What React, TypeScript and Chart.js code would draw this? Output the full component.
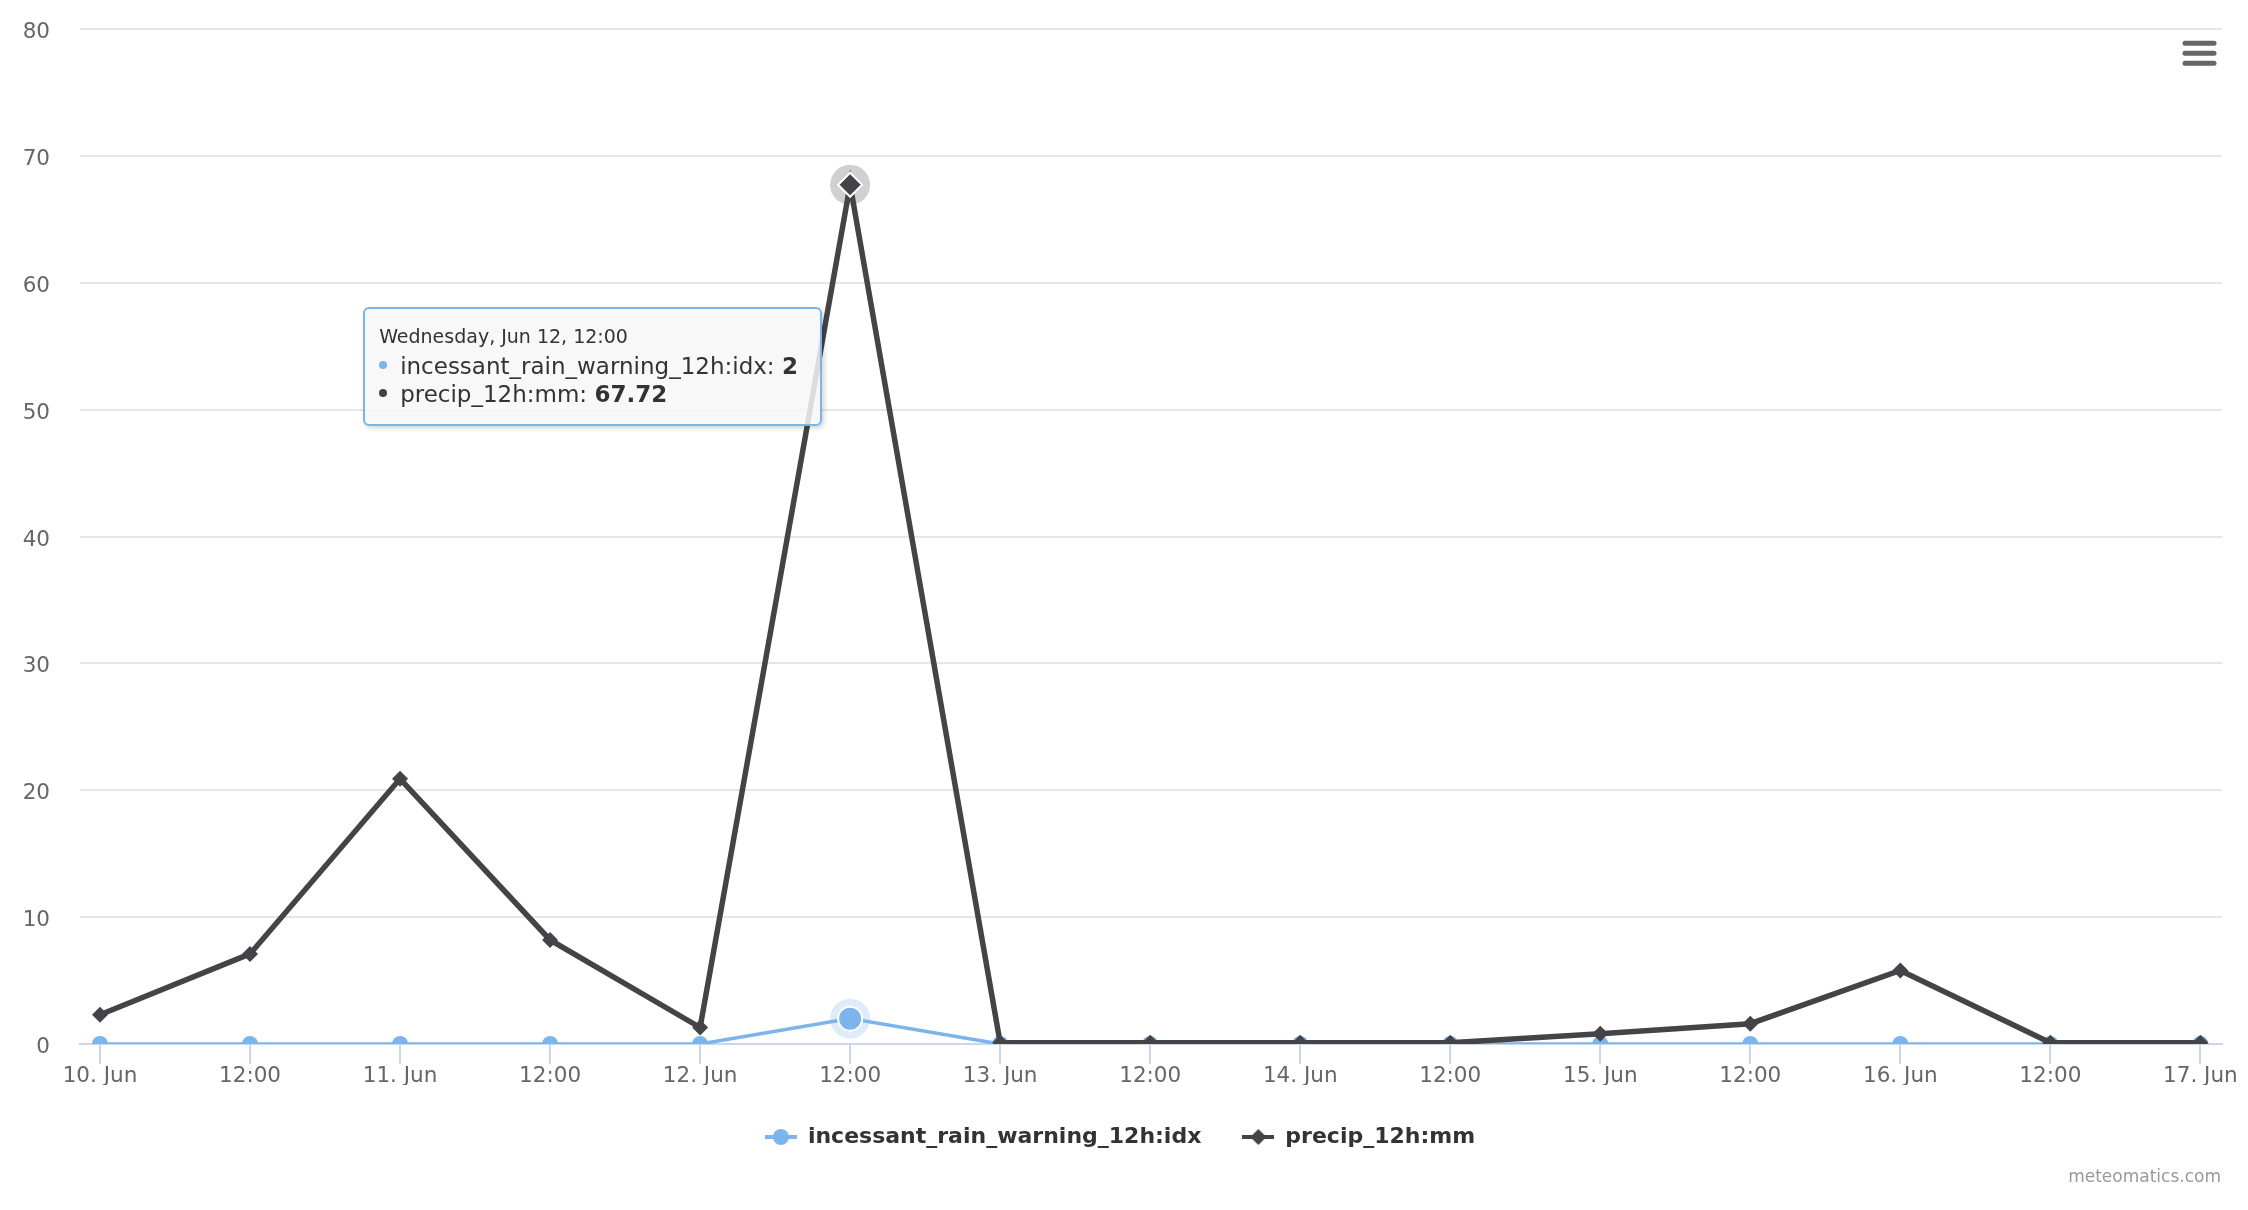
import React, { useEffect, useRef } from 'react';
import { Chart, registerables } from 'chart.js';

Chart.register(...registerables);

const FONT = '"DejaVu Sans", "Lucida Grande", sans-serif';

// ---- data ----
const hours = [0, 12, 24, 36, 48, 60, 72, 84, 96, 108, 120, 132, 144, 156, 168];
const tickLabels = ['10. Jun', '12:00', '11. Jun', '12:00', '12. Jun', '12:00', '13. Jun', '12:00', '14. Jun', '12:00', '15. Jun', '12:00', '16. Jun', '12:00', '17. Jun'];
const pointTitles = [
  'Monday, Jun 10, 00:00', 'Monday, Jun 10, 12:00',
  'Tuesday, Jun 11, 00:00', 'Tuesday, Jun 11, 12:00',
  'Wednesday, Jun 12, 00:00', 'Wednesday, Jun 12, 12:00',
  'Thursday, Jun 13, 00:00', 'Thursday, Jun 13, 12:00',
  'Friday, Jun 14, 00:00', 'Friday, Jun 14, 12:00',
  'Saturday, Jun 15, 00:00', 'Saturday, Jun 15, 12:00',
  'Sunday, Jun 16, 00:00', 'Sunday, Jun 16, 12:00',
  'Monday, Jun 17, 00:00',
];
const rainWarning = [0, 0, 0, 0, 0, 2, 0, 0, 0, 0, 0, 0, 0, 0, 0];
const precip = [2.3, 7.1, 20.9, 8.2, 1.3, 67.72, 0.1, 0.1, 0.1, 0.1, 0.8, 1.6, 5.8, 0.1, 0.1];
const seriesNames = ['incessant_rain_warning_12h:idx', 'precip_12h:mm'];
const yTicks = [0, 10, 20, 30, 40, 50, 60, 70, 80];
const hoveredIndex = 5;
const creditText = 'meteomatics.com';

// ---- styles ----
const seriesColors = ['#7cb5ec', '#434348'];
const haloColors = ['rgba(124,181,236,0.25)', 'rgba(67,67,72,0.25)'];
const xMin = -1.6;
const xMax = 169.73;

function makeLegendSymbol(color: string, shape: 'circle' | 'diamond'): HTMLCanvasElement {
  const c = document.createElement('canvas');
  c.width = 32;
  c.height = 18;
  const g = c.getContext('2d')!;
  g.strokeStyle = color;
  g.lineWidth = 4;
  g.beginPath();
  g.moveTo(0, 9);
  g.lineTo(32, 9);
  g.stroke();
  g.fillStyle = color;
  g.beginPath();
  if (shape === 'circle') {
    g.arc(16, 9, 8, 0, Math.PI * 2);
  } else {
    g.moveTo(16, 1);
    g.lineTo(24, 9);
    g.lineTo(16, 17);
    g.lineTo(8, 9);
    g.closePath();
  }
  g.fill();
  return c;
}

const haloPlugin = {
  id: 'halo',
  beforeDatasetsDraw(chart: any) {
    const ctx = chart.ctx;
    chart.getActiveElements().forEach((a: any) => {
      const el = a.element;
      ctx.save();
      ctx.fillStyle = haloColors[a.datasetIndex];
      ctx.beginPath();
      ctx.arc(el.x, el.y, 20, 0, Math.PI * 2);
      ctx.fill();
      ctx.restore();
    });
  },
};

const decorPlugin = {
  id: 'decor',
  afterDraw(chart: any) {
    const ctx = chart.ctx;
    ctx.save();
    ctx.font = `17px ${FONT}`;
    ctx.fillStyle = '#999999';
    ctx.textAlign = 'right';
    ctx.textBaseline = 'alphabetic';
    ctx.fillText(creditText, chart.width - 27, chart.height - 28);
    ctx.strokeStyle = '#666666';
    ctx.lineWidth = 5;
    ctx.lineCap = 'round';
    [43.2, 53.2, 63.2].forEach((y) => {
      ctx.beginPath();
      ctx.moveTo(chart.width - 63, y);
      ctx.lineTo(chart.width - 34, y);
      ctx.stroke();
    });
    ctx.restore();
  },
};

function renderTooltip(context: any) {
  const { chart, tooltip } = context;
  const host = chart.canvas.parentNode as HTMLElement;
  let el = host.querySelector('[data-tt]') as HTMLDivElement | null;
  if (!el) {
    el = document.createElement('div');
    el.setAttribute('data-tt', '1');
    Object.assign(el.style, {
      position: 'absolute',
      pointerEvents: 'none',
      boxSizing: 'border-box',
      width: '459px',
      padding: '16px 18px 16px 14px',
      background: 'rgba(247,247,247,0.85)',
      border: '2px solid #7cb5ec',
      borderRadius: '6px',
      boxShadow: '2px 2px 5px rgba(0,0,0,0.18)',
      fontFamily: FONT,
      color: '#333333',
      whiteSpace: 'nowrap',
      transform: 'translateX(-100%)',
    });
    host.appendChild(el);
  }
  const points = (tooltip.dataPoints || []).slice().sort((a: any, b: any) => a.datasetIndex - b.datasetIndex);
  if (!points.length || tooltip.opacity === 0) {
    el.style.display = 'none';
    return;
  }
  el.style.display = 'block';
  const idx = points[0].dataIndex;
  let html = `<div style="font-size:19px;line-height:22px;">${pointTitles[idx]}</div>`;
  points.forEach((p: any, k: number) => {
    html +=
      `<div style="font-size:23px;line-height:28px;${k === 0 ? 'margin-top:5px;' : ''}">` +
      `<span style="display:inline-block;width:8px;height:8px;border-radius:50%;background:${seriesColors[p.datasetIndex]};margin-right:13px;vertical-align:middle;position:relative;top:-2px;"></span>` +
      `${seriesNames[p.datasetIndex]}: <b>${p.raw.y}</b></div>`;
  });
  el.innerHTML = html;
  const anchor = chart.getDatasetMeta(1).data[idx];
  el.style.left = `${anchor.x - 28}px`;
  el.style.top = `${anchor.y + 122}px`;
}

export default function App() {
  const canvasRef = useRef<HTMLCanvasElement | null>(null);

  useEffect(() => {
    const canvas = canvasRef.current;
    if (!canvas) return;
    Chart.defaults.font.family = FONT;
    Chart.defaults.color = '#666666';
    const legendSymbols = [makeLegendSymbol(seriesColors[0], 'circle'), makeLegendSymbol(seriesColors[1], 'diamond')];

    const chart = new Chart(canvas, {
      type: 'line',
      data: {
        datasets: [
          {
            label: seriesNames[0],
            data: hours.map((h, i) => ({ x: h, y: rainWarning[i] })),
            borderColor: seriesColors[0],
            backgroundColor: seriesColors[0],
            borderWidth: 3.5,
            pointStyle: 'circle',
            pointRadius: 8,
            pointBorderWidth: 0,
            pointHoverRadius: 12,
            pointHoverBorderWidth: 2,
            pointHoverBorderColor: '#ffffff',
            pointHoverBackgroundColor: seriesColors[0],
            tension: 0,
            order: 1,
          },
          {
            label: seriesNames[1],
            data: hours.map((h, i) => ({ x: h, y: precip[i] })),
            borderColor: seriesColors[1],
            backgroundColor: seriesColors[1],
            borderWidth: 5.5,
            pointStyle: 'rectRot',
            pointRadius: 8,
            pointBorderWidth: 0,
            pointHoverRadius: 12,
            pointHoverBorderWidth: 2,
            pointHoverBorderColor: '#ffffff',
            pointHoverBackgroundColor: seriesColors[1],
            tension: 0,
            order: 0,
          },
        ],
      },
      options: {
        animation: false,
        responsive: false,
        events: [],
        layout: { padding: { left: 18, right: 26, top: 29, bottom: 52 } },
        scales: {
          x: {
            type: 'linear',
            min: xMin,
            max: xMax,
            afterBuildTicks: (s: any) => {
              s.ticks = hours.map((v) => ({ value: v }));
            },
            afterFit: (s: any) => {
              s.height = 41;
            },
            ticks: {
              callback: (_v: any, i: number) => tickLabels[i],
              color: '#666666',
              font: { size: 21.5 },
              padding: 0,
              maxRotation: 0,
              autoSkip: false,
            },
            grid: { drawOnChartArea: false, drawTicks: true, tickLength: 20, color: '#ccd6eb', lineWidth: 2 },
            border: { color: '#ccd6eb', width: 2 },
          },
          y: {
            min: 0,
            max: 80,
            afterBuildTicks: (s: any) => {
              s.ticks = yTicks.map((v) => ({ value: v }));
            },
            afterFit: (s: any) => {
              s.width = 62;
            },
            ticks: { color: '#666666', font: { size: 21.5 }, padding: 0, labelOffset: 3.5 },
            grid: {
              color: '#e6e6e6',
              lineWidth: 2,
              drawTicks: true,
              tickLength: 30,
              tickColor: 'rgba(0,0,0,0)',
            },
            border: { display: false },
          },
        },
        plugins: {
          legend: {
            position: 'bottom',
            align: 'center',
            labels: {
              usePointStyle: true,
              pointStyleWidth: 32,
              boxHeight: 22,
              padding: 41,
              color: '#333333',
              font: { size: 22, weight: 'bold' },
              generateLabels: (ch: any) =>
                ch.data.datasets.map((ds: any, i: number) => ({
                  text: ds.label,
                  fillStyle: seriesColors[i],
                  strokeStyle: seriesColors[i],
                  lineWidth: 0,
                  pointStyle: legendSymbols[i],
                  hidden: !ch.isDatasetVisible(i),
                  datasetIndex: i,
                  fontColor: '#333333',
                })),
            },
          },
          tooltip: {
            enabled: false,
            mode: 'index',
            intersect: false,
            external: renderTooltip,
          },
        },
      },
      plugins: [haloPlugin, decorPlugin],
    } as any);

    const active = [
      { datasetIndex: 0, index: hoveredIndex },
      { datasetIndex: 1, index: hoveredIndex },
    ];
    chart.setActiveElements(active);
    const p = chart.getDatasetMeta(1).data[hoveredIndex] as any;
    chart.tooltip!.setActiveElements(active, { x: p.x, y: p.y });
    chart.update();

    return () => {
      chart.destroy();
      const host = canvas.parentNode as HTMLElement | null;
      const tt = host && host.querySelector('[data-tt]');
      if (tt && tt.parentNode) tt.parentNode.removeChild(tt);
    };
  }, []);

  return (
    <div style={{ position: 'absolute', left: 0, top: 0, width: 2248, height: 1210, background: '#ffffff' }}>
      <canvas ref={canvasRef} width={2248} height={1210} style={{ display: 'block', width: 2248, height: 1210 }} />
    </div>
  );
}
